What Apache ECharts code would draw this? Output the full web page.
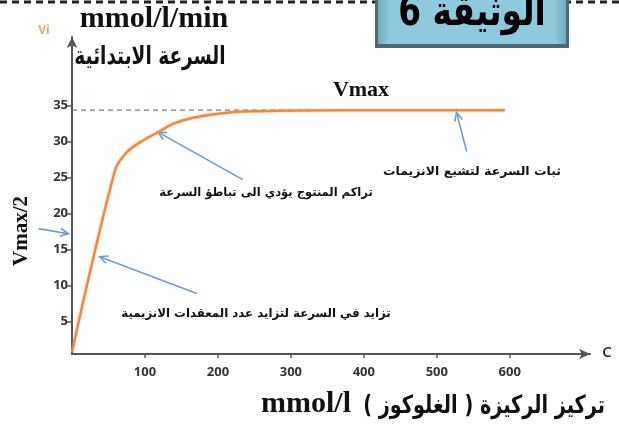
<!DOCTYPE html>
<html>
<head>
<meta charset="utf-8">
<script src="https://cdn.jsdelivr.net/npm/echarts@6/dist/echarts.min.js"></script>
<style>
  html, body { margin: 0; padding: 0; background: #ffffff; }
  #chart { width: 619px; height: 425px; }
</style>
</head>
<body>
<div id="chart"></div>
<script>
// Michaelis–Menten style curve: initial rate Vi vs substrate (glucose) concentration
const substrate = [0, 59, 75, 95, 120, 140, 166, 212, 258, 320, 450, 593];
const velocity  = [0.8, 26, 28.5, 30, 31.4, 32.5, 33.3, 34.0, 34.2, 34.3, 34.35, 34.35];
const vmax = 34.35;
const vmaxSpan = [0, 593];
const xTickValues = [100, 200, 300, 400, 500, 600];
const yTickValues = [5, 10, 15, 20, 25, 30, 35];

// Annotation arrows: [tail, tip] in data coordinates
const arrowIncrease   = [[171, 8.9], [38, 14.0]];
const arrowSlowdown   = [[234, 24.7], [118, 31.3]];
const arrowSaturation = [[541, 28.6], [527, 34.0]];
const arrowHalfVmax   = [[-46, 17.9], [-5, 17.2]];

const textIncrease   = 'تزايد في السرعة لتزايد عدد المعقدات الانزيمية';
const textSlowdown   = 'تراكم المنتوج يؤدي الى تباطؤ السرعة';
const textSaturation = 'ثبات السرعة لتشبع الانزيمات';
const yTitleAr = 'السرعة الابتدائية';
const xTitleAr = 'تركيز الركيزة ( الغلوكوز )\u200F';
const docTitle = 'الوثيقة 6';

const chart = echarts.init(document.getElementById('chart'), null, { renderer: 'canvas' });

const axisColor = '#555555';
const labelFont = { color: '#333333', fontSize: 13, fontWeight: 'bold', fontFamily: 'Open Sans' };

const option = {
  animation: false,
  backgroundColor: '#ffffff',
  grid: { left: 72, right: 29, top: 37, bottom: 71, containLabel: false },
  xAxis: {
    type: 'value', min: 0, max: 710,
    axisLine: { show: true, lineStyle: { color: axisColor, width: 2 }, symbol: ['none', 'arrow'], symbolSize: [8, 11] },
    axisTick: { show: true, customValues: xTickValues, length: 4, lineStyle: { color: axisColor, width: 1.5 } },
    axisLabel: { customValues: xTickValues, margin: 12, ...labelFont },
    splitLine: { show: false }
  },
  yAxis: {
    type: 'value', min: 0.5, max: 44.5,
    axisLine: { show: true, lineStyle: { color: axisColor, width: 2 }, symbol: ['none', 'arrow'], symbolSize: [8, 11] },
    axisTick: { show: true, customValues: yTickValues, length: 6, lineStyle: { color: axisColor, width: 1.5 } },
    axisLabel: { customValues: yTickValues, margin: 4, ...labelFont },
    splitLine: { show: false }
  },
  series: [
    {
      name: 'Vmax', type: 'line', showSymbol: false, silent: true,
      data: vmaxSpan.map(x => [x, vmax]),
      lineStyle: { color: '#6f7f90', width: 1.2, type: [5, 4] },
      z: 1
    },
    {
      name: 'Vi', type: 'line', showSymbol: false, smooth: 0.3,
      data: substrate.map((x, i) => [x, velocity[i]]),
      lineStyle: { color: '#ea8a45', width: 2.5, shadowColor: 'rgba(240,160,100,0.5)', shadowBlur: 3 },
      z: 2
    }
  ]
};
chart.setOption(option);

function arrowShape(pair) {
  const a = chart.convertToPixel({ gridIndex: 0 }, pair[0]);
  const b = chart.convertToPixel({ gridIndex: 0 }, pair[1]);
  const ang = Math.atan2(b[1] - a[1], b[0] - a[0]);
  const h = 9, spread = 0.45;
  const p1 = [b[0] - h * Math.cos(ang - spread), b[1] - h * Math.sin(ang - spread)];
  const p2 = [b[0] - h * Math.cos(ang + spread), b[1] - h * Math.sin(ang + spread)];
  const style = { stroke: '#6f9bd0', lineWidth: 1.6, fill: null };
  return [
    { type: 'line', shape: { x1: a[0], y1: a[1], x2: b[0], y2: b[1] }, style },
    { type: 'polyline', shape: { points: [p1, b, p2] }, style }
  ];
}

function txt(x, y, text, font, opts, scaleX) {
  return {
    type: 'text', x: x, y: y, scaleX: scaleX || 1,
    style: Object.assign({ text: text, font: font, fill: '#111111', textAlign: 'center', textVerticalAlign: 'middle' }, opts || {})
  };
}

const arFont = 'DejaVu Sans';
const graphics = [
  // dashed page border along the top
  { type: 'line', shape: { x1: 0, y1: 2, x2: 619, y2: 2 }, style: { stroke: '#222222', lineWidth: 3, lineDash: [7, 5] } },
  // document badge
  { type: 'rect', shape: { x: 375, y: -4, width: 194, height: 52 }, style: { fill: '#4f6870' } },
  { type: 'rect', shape: { x: 378, y: -4, width: 188, height: 48 },
    style: { fill: new echarts.graphic.LinearGradient(0, 0, 1, 0, [
      { offset: 0, color: '#6fa9b9' }, { offset: 0.06, color: '#8fcadc' },
      { offset: 0.94, color: '#8fcadc' }, { offset: 1, color: '#6fa9b9' }]) } },
  txt(472, 14, docTitle, 'bold 42px ' + arFont, { fill: '#000000' }, 0.78),

  txt(44, 31, 'Vi', 'bold 12px "Open Sans"', { fill: '#e9a878' }),
  txt(154, 19, 'mmol/l/min', 'bold 30px "Liberation Serif"'),
  txt(150, 57, yTitleAr, 'bold 25px ' + arFont, null, 0.74),
  txt(361, 90, 'Vmax', 'bold 22px "Liberation Serif"'),
  Object.assign(txt(22, 231, 'Vmax/2', 'bold 21px "Liberation Serif"'), { rotation: Math.PI / 2 }),
  txt(266, 193, textSlowdown, 'bold 12px ' + arFont, null, 0.96),
  txt(472, 172, textSaturation, 'bold 12px ' + arFont, null, 1.04),
  txt(256, 314, textIncrease, 'bold 12px ' + arFont, null, 0.98),
  txt(607, 353, 'C', '600 15px "Open Sans"', { fill: '#222222' }),
  txt(261, 404, 'mmol/l', 'bold 30px "Liberation Serif"', { textAlign: 'left' }),
  txt(605, 406, xTitleAr, 'bold 25px ' + arFont, { textAlign: 'right' }, 0.77)
];

[arrowIncrease, arrowSlowdown, arrowSaturation, arrowHalfVmax].forEach(p => graphics.push(...arrowShape(p)));

chart.setOption({ graphic: { elements: graphics } });
</script>
</body>
</html>
